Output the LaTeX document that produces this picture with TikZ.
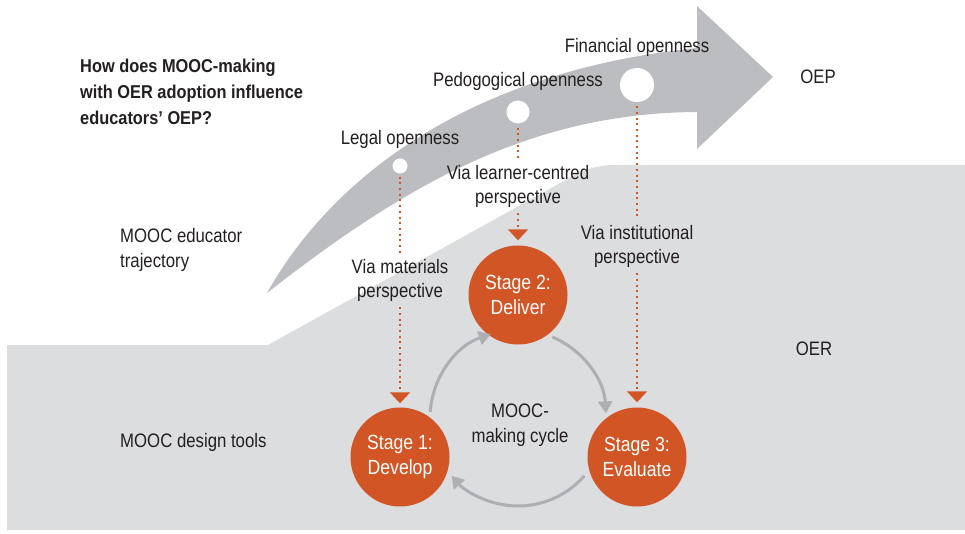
\documentclass[tikz,border=0pt]{standalone}
\usepackage{fontspec}
\setmainfont{Liberation Sans}[FakeStretch=0.86,BoldFeatures={FakeStretch=0.88}]
\usetikzlibrary{arrows.meta}
\definecolor{org}{HTML}{D25526}
\definecolor{dgray}{HTML}{BCBDC0}
\definecolor{lgray}{HTML}{DCDDDF}
\definecolor{cgray}{HTML}{ADAFB2}
\definecolor{ink}{HTML}{231F20}
\begin{document}
\begin{tikzpicture}[x=1pt,y=1pt,
  txt/.style={text=ink, font=\fontsize{19.5}{24.5}\selectfont, inner sep=2pt, align=center},
  ltxt/.style={text=ink, font=\fontsize{19.5}{25}\selectfont, inner sep=0pt, align=left, anchor=base west},
  wdot/.style={circle, fill=white, inner sep=0pt},
  stage/.style={circle, fill=org, text=white, minimum size=99pt, inner sep=0pt, align=center,
    font=\fontsize{20.5}{25}\selectfont},
  dotline/.style={draw=org, line width=2pt, dash pattern=on 2pt off 3.7pt},
  dotarrow/.style={dotline, -{Triangle[length=11pt,width=20pt,fill=org]}},
  cyc/.style={draw=cgray, line width=3pt, -{Triangle[length=12pt,width=14pt]}}
]
\useasboundingbox (0,0) rectangle (965,-534);
% background regions
\fill[lgray] (7,-345) -- (268,-345) -- (562,-182) .. controls (584,-169) and (596,-165) .. (618,-165)
  -- (965,-165) -- (965,-530) -- (7,-530) -- cycle;
\fill[dgray] (267,-293) .. controls (337,-169) and (480,-70) .. (697,-48) -- (697,-6) -- (773,-77)
  -- (697,-149) -- (697,-112) .. controls (530,-113) and (405,-185) .. (267,-293) -- cycle;

% labels (base anchor = baseline of the last line)
\node[ltxt, font=\bfseries\fontsize{18.6}{26}\selectfont] (q) at (80,-125)
  {How does MOOC-making\\with OER adoption influence\\educators’ OEP?};
\node[ltxt] (traj) at (120,-268) {MOOC educator\\trajectory};
\node[ltxt] (tools) at (120,-447) {MOOC design tools};
\node[txt, anchor=base] (oep) at (818,-84) {OEP};
\node[txt, anchor=base] (oer) at (814,-355) {OER};

% openness points
\node[wdot, minimum size=15pt] (lc) at (400,-166) {};
\node[wdot, minimum size=23pt] (pc) at (518,-112) {};
\node[wdot, minimum size=34pt] (fc) at (637,-85) {};
\node[txt, anchor=base] (lt) at (400,-145) {Legal openness};
\node[txt, anchor=base] (pt) at (518,-87) {Pedogogical openness};
\node[txt, anchor=base] (ft) at (637,-53) {Financial openness};

% perspective labels
\node[txt, anchor=base] (vm) at (400,-298) {Via materials\\perspective};
\node[txt, anchor=base] (vl) at (518,-204) {Via learner-centred\\perspective};
\node[txt, anchor=base] (vi) at (637,-264) {Via institutional\\perspective};

% stages
\node[stage] (s1) at (400,-457) {Stage 1:\\Develop};
\node[stage] (s2) at (518,-295) {Stage 2:\\Deliver};
\node[stage] (s3) at (637,-457) {Stage 3:\\Evaluate};
\node[txt, anchor=base] (mc) at (520,-442) {MOOC-\\making cycle};

% dotted connectors
\draw[dotline, shorten <=3pt, shorten >=2pt] (lc) -- (vm);
\draw[dotarrow, shorten <=3pt, shorten >=4pt] (vm) -- (s1);
\draw[dotline, shorten <=4pt, shorten >=3pt] (pc) -- (vl);
\draw[dotarrow, shorten <=3pt, shorten >=5pt] (vl) -- (s2);
\draw[dotline, shorten <=4pt, shorten >=4pt] (fc) -- (vi);
\draw[dotarrow, shorten <=3pt, shorten >=5pt] (vi) -- (s3);

% cycle arrows
\coordinate (cc) at (518,-418);
\draw[cyc] ([shift={(176:88)}]cc) arc[start angle=176, end angle=108, radius=88];
\draw[cyc] ([shift={(67:88)}]cc) arc[start angle=67, end angle=3, radius=88];
\draw[cyc] ([shift={(-41:88)}]cc) arc[start angle=-41, end angle=-139, radius=88];
\end{tikzpicture}
\end{document}
